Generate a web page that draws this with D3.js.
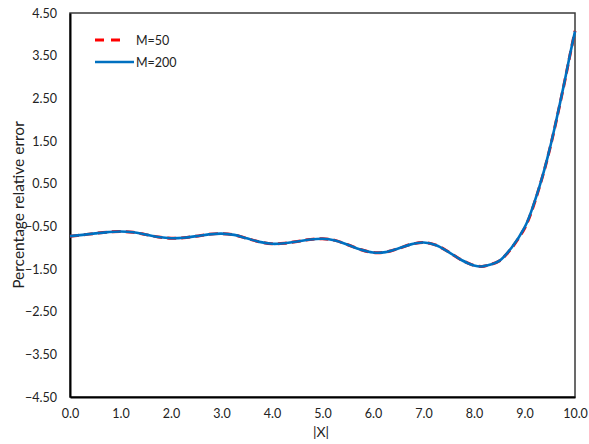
<!DOCTYPE html>
<html><head><meta charset="utf-8">
<script src="https://cdn.jsdelivr.net/npm/d3@7"></script>
<style>body{margin:0;background:#fff}svg text{font-family:Lato,"Open Sans",sans-serif}</style>
</head><body><svg id="c" width="589" height="444"></svg>
<script>
const xVals = [0,0.25,0.5,0.75,1.0,1.25,1.5,1.75,2.0,2.25,2.5,2.75,3.0,3.25,3.5,3.75,4.0,4.25,4.5,4.75,5.0,5.25,5.5,5.75,6.0,6.25,6.5,6.75,7.0,7.25,7.5,7.75,8.0,8.15,8.25,8.5,8.75,9.0,9.1,9.2,9.3,9.4,9.5,9.6,9.7,9.8,9.9,10.0];
const m50  = [-0.73,-0.70,-0.665,-0.635,-0.62,-0.64,-0.694,-0.75,-0.779,-0.768,-0.73,-0.688,-0.67,-0.70,-0.781,-0.864,-0.909,-0.897,-0.855,-0.809,-0.79,-0.83,-0.932,-1.044,-1.113,-1.104,-1.021,-0.923,-0.88,-0.942,-1.103,-1.289,-1.417,-1.44,-1.42,-1.31,-1.00,-0.55,-0.28,0.06,0.44,0.85,1.31,1.82,2.36,2.92,3.51,4.08];
const m200 = [-0.73,-0.70,-0.665,-0.635,-0.62,-0.64,-0.694,-0.75,-0.779,-0.768,-0.73,-0.688,-0.67,-0.70,-0.781,-0.864,-0.909,-0.897,-0.855,-0.809,-0.79,-0.83,-0.932,-1.044,-1.113,-1.104,-1.021,-0.923,-0.88,-0.942,-1.103,-1.289,-1.417,-1.44,-1.42,-1.31,-0.99,-0.53,-0.26,0.08,0.45,0.86,1.32,1.83,2.37,2.93,3.52,4.07];
const xTicks = [0,1,2,3,4,5,6,7,8,9,10];
const yTicks = [4.5,3.5,2.5,1.5,0.5,-0.5,-1.5,-2.5,-3.5,-4.5];
const seriesNames = ["M=50","M=200"];

const svg = d3.select("#c");
const L=70,R=575,T=13,B=397;
const x = d3.scaleLinear().domain([0,10]).range([L,R]);
const y = d3.scaleLinear().domain([-4.5,4.5]).range([B,T]);

svg.append("rect").attr("x",L).attr("y",T).attr("width",R-L).attr("height",B-T)
  .attr("fill","none").attr("stroke","#3a3a3a").attr("stroke-width",1.5);

const xa = svg.append("g").attr("transform",`translate(0,${B})`)
  .call(d3.axisBottom(x).tickValues(xTicks).tickSize(0).tickPadding(12).tickFormat(d3.format(".1f")));
xa.select(".domain").attr("stroke","#000").attr("stroke-width",2);
xa.selectAll("text").attr("font-size",12.5).attr("fill","#222");

const ya = svg.append("g").attr("transform",`translate(${L},0)`)
  .call(d3.axisLeft(y).tickValues(yTicks).tickSize(0).tickPadding(13).tickFormat(d3.format(".2f")));
ya.select(".domain").attr("stroke","#000").attr("stroke-width",2);
ya.selectAll("text").attr("font-size",12.5).attr("fill","#222");

svg.append("text").attr("x",321).attr("y",437).attr("text-anchor","middle")
  .attr("font-size",14).attr("fill","#222").text("|X|");
svg.append("text").attr("transform","translate(24,205) rotate(-90)").attr("text-anchor","middle")
  .attr("font-size",15.5).attr("fill","#222").text("Percentage relative error");

const line = d3.line().x(d=>x(d[0])).y(d=>y(d[1])).curve(d3.curveCatmullRom.alpha(0.5));
svg.append("path").datum(xVals.map((v,i)=>[v,m50[i]]))
  .attr("d",line).attr("fill","none").attr("stroke","#ff0000").attr("stroke-width",3)
  .attr("stroke-dasharray","9,5");
svg.append("path").datum(xVals.map((v,i)=>[v,m200[i]]))
  .attr("d",line).attr("fill","none").attr("stroke","#0070c0").attr("stroke-width",2.6);

const lg = svg.append("g");
lg.append("line").attr("x1",95).attr("x2",126).attr("y1",40).attr("y2",40)
  .attr("stroke","#ff0000").attr("stroke-width",3).attr("stroke-dasharray","9,7");
lg.append("text").attr("x",136).attr("y",44.5).attr("font-size",12.5).attr("fill","#222").text(seriesNames[0]);
lg.append("line").attr("x1",95).attr("x2",134).attr("y1",62).attr("y2",62)
  .attr("stroke","#0070c0").attr("stroke-width",2.6);
lg.append("text").attr("x",136).attr("y",66.5).attr("font-size",12.5).attr("fill","#222").text(seriesNames[1]);
</script></body></html>
